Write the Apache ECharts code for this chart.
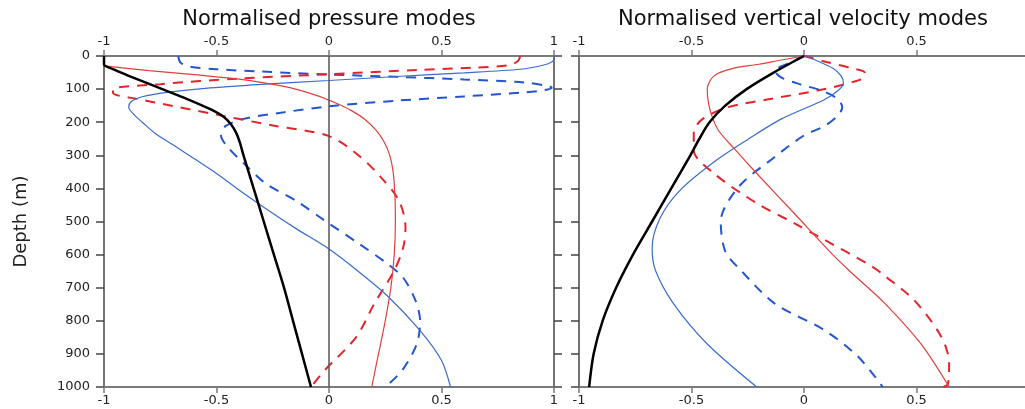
<!DOCTYPE html>
<html>
<head>
<meta charset="utf-8">
<script src="https://cdn.jsdelivr.net/npm/echarts@6/dist/echarts.min.js"></script>
<style>html,body{margin:0;padding:0;background:#fff;overflow:hidden}#c{width:1040px;height:409px}</style>
</head>
<body>
<div id="c"></div>
<script>
// ---- data: [value, depth(m)] ----
const titles = ['Normalised pressure modes', 'Normalised vertical velocity modes'];
const yName = 'Depth (m)';
const xTicks = [-1, -0.5, 0, 0.5, 1];
const depthTicks = [0, 100, 200, 300, 400, 500, 600, 700, 800, 900, 1000];

// pressure modes
const pBlack = [[-1,0],[-1,25],[-0.96,40],[-0.89,60],[-0.76,95],[-0.63,130],[-0.53,160],[-0.47,183],[-0.435,207],[-0.412,233],[-0.396,262],[-0.38,300],[-0.335,400],[-0.29,500],[-0.245,600],[-0.2,700],[-0.16,800],[-0.12,900],[-0.08,1000]];
const pRedThin = [[-1,30],[-0.8,44],[-0.6,56],[-0.4,70],[-0.2,92],[-0.06,118],[0.03,142],[0.1,165],[0.16,192],[0.21,225],[0.245,260],[0.27,300],[0.285,350],[0.293,420],[0.295,500],[0.29,600],[0.275,700],[0.25,800],[0.22,900],[0.19,1000]];
const pRedDash = [[0.85,0],[0.84,15],[0.8,28],[0.65,35],[0.4,42],[0,55],[-0.4,68],[-0.75,85],[-0.96,100],[-0.96,112],[-0.85,130],[-0.7,150],[-0.5,177],[-0.25,210],[0,242],[0.14,305],[0.23,366],[0.31,436],[0.34,517],[0.33,578],[0.29,648],[0.2,750],[0.12,850],[-0.02,950],[-0.08,1000]];
const pBlueThin = [[1,0],[1,10],[0.99,18],[0.95,28],[0.85,40],[0.6,51],[0.3,62],[0,74],[-0.3,86],[-0.55,98],[-0.72,110],[-0.83,123],[-0.88,138],[-0.89,155],[-0.87,175],[-0.83,200],[-0.77,235],[-0.69,270],[-0.6,310],[-0.5,355],[-0.4,405],[-0.29,457],[-0.15,520],[0,583],[0.12,645],[0.26,725],[0.405,830],[0.5,920],[0.54,1000]];
const pBlueDash = [[-0.67,0],[-0.66,20],[-0.62,32],[-0.5,40],[-0.3,47],[0,56],[0.3,63],[0.6,71],[0.87,80],[0.98,92],[0.99,97],[0.96,103],[0.87,110],[0.6,122],[0.3,135],[0,152],[-0.2,170],[-0.38,190],[-0.46,212],[-0.48,240],[-0.45,275],[-0.37,330],[-0.28,386],[-0.14,440],[-0.02,497],[0.135,568],[0.26,628],[0.33,670],[0.385,740],[0.405,800],[0.39,870],[0.325,950],[0.25,1000]];

// vertical velocity modes
const wBlack = [[0,0],[-0.135,50],[-0.255,100],[-0.35,150],[-0.42,200],[-0.465,250],[-0.505,300],[-0.59,400],[-0.675,500],[-0.76,600],[-0.835,700],[-0.895,800],[-0.935,900],[-0.955,1000]];
const wRedThin = [[0,0],[-0.1,12],[-0.2,25],[-0.32,38],[-0.4,60],[-0.43,100],[-0.425,140],[-0.41,180],[-0.38,225],[-0.31,280],[-0.21,355],[-0.044,475],[0.12,595],[0.2,648],[0.36,748],[0.52,870],[0.645,1000]];
const wRedDash = [[0,0],[0.1,18],[0.2,35],[0.27,50],[0.27,62],[0.22,78],[0.07,103],[-0.15,130],[-0.34,155],[-0.45,190],[-0.49,230],[-0.49,285],[-0.4,355],[-0.21,445],[-0.044,505],[0.09,555],[0.3,635],[0.36,665],[0.49,738],[0.61,848],[0.645,928],[0.64,990],[0.62,1000]];
const wBlueThin = [[0,0],[0.06,15],[0.13,38],[0.165,60],[0.175,82],[0.15,105],[0.09,132],[-0.1,190],[-0.25,252],[-0.39,315],[-0.55,405],[-0.64,490],[-0.675,580],[-0.66,648],[-0.58,748],[-0.43,870],[-0.21,1000]];
const wBlueDash = [[0,0],[-0.06,20],[-0.13,45],[-0.1,65],[-0.02,85],[0.08,105],[0.15,130],[0.17,155],[0.15,180],[0.09,212],[0,240],[-0.13,305],[-0.29,395],[-0.37,500],[-0.35,590],[-0.28,648],[-0.13,748],[0.09,828],[0.24,908],[0.35,1000]];

const FONT = 'DejaVu Sans';
const hCol = '#7a7a7a', vCol = '#444';
const chart = echarts.init(document.getElementById('c'), null, {renderer:'canvas'});

function xAx(grid, pos, hideMax){
  return {type:'value', gridIndex:grid, position:pos, min:xTicks[0], max:xTicks[xTicks.length-1], interval:0.5,
    axisLine:{show:true, onZero:false, lineStyle:{color:hCol, width:2}},
    axisTick:{show:true, inside:false, length:6, lineStyle:{color:hCol, width:1.5}},
    axisLabel:{show:true, fontFamily:FONT, fontSize:13, color:'#222', margin: pos==='top'?8:7,
      showMaxLabel: !hideMax, formatter: v => String(v)},
    splitLine:{show:false}};
}
function yAx(grid, pos, labels){
  return {type:'value', gridIndex:grid, position:pos, inverse:true, min:depthTicks[0], max:depthTicks[depthTicks.length-1], interval:100,
    axisLine:{show:true, onZero:false, lineStyle:{color:vCol, width:1.5}},
    axisTick:{show:true, inside:false, length:8, lineStyle:{color:vCol, width:1.5}},
    axisLabel:{show:labels, fontFamily:FONT, fontSize:13, color:'#222', margin:14, formatter: v => String(v)},
    splitLine:{show:false}};
}
function ser(data, xi, yi, color, width, dashed){
  return {type:'line', data:data, xAxisIndex:xi, yAxisIndex:yi, smooth:0.3, showSymbol:false, symbol:'none',
    lineStyle:{color:color, width:width, type: dashed ? [10,8] : 'solid'}, z: dashed?3:4, silent:true, animation:false};
}
const RED_T = '#e0403c', RED_D = '#e3242b', BLUE_T = '#3a6ccc', BLUE_D = '#2355cf';

const series = [
  ser(pBlueThin,0,0,BLUE_T,1.2,false),
  ser(pRedThin,0,0,RED_T,1.2,false),
  ser(pBlueDash,0,0,BLUE_D,2,true),
  ser(pRedDash,0,0,RED_D,2,true),
  ser(pBlack,0,0,'#000',2.5,false),
  ser(wBlueThin,2,2,BLUE_T,1.2,false),
  ser(wRedThin,2,2,RED_T,1.2,false),
  ser(wBlueDash,2,2,BLUE_D,2,true),
  ser(wRedDash,2,2,RED_D,2,true),
  ser(wBlack,2,2,'#000',2.5,false)
];
series[4].markLine = {silent:true, symbol:'none', label:{show:false}, animation:false,
  lineStyle:{color:'#555', width:1.5, type:'solid'}, data:[{xAxis:0}]};

const option = {
  backgroundColor:'#fff',
  animation:false,
  grid:[
    {left:104, top:56, width:450, height:331},
    {left:579, top:56, width:450, height:331}
  ],
  xAxis:[xAx(0,'bottom',false), xAx(0,'top',false), xAx(1,'bottom',true), xAx(1,'top',true)],
  yAxis:[
    Object.assign(yAx(0,'left',true), {name:yName, nameLocation:'middle', nameGap:74, nameRotate:90,
      nameTextStyle:{fontFamily:FONT, fontSize:18, color:'#222'}}),
    yAx(0,'right',false),
    yAx(1,'left',false)
  ],
  graphic:[
    {type:'text', x:329, y:20, style:{text:titles[0], font:'21px "DejaVu Sans"', fill:'#111', textAlign:'center', textVerticalAlign:'middle'}},
    {type:'text', x:803, y:20, style:{text:titles[1], font:'21px "DejaVu Sans"', fill:'#111', textAlign:'center', textVerticalAlign:'middle'}}
  ],
  series: series
};
chart.setOption(option);
</script>
</body>
</html>
